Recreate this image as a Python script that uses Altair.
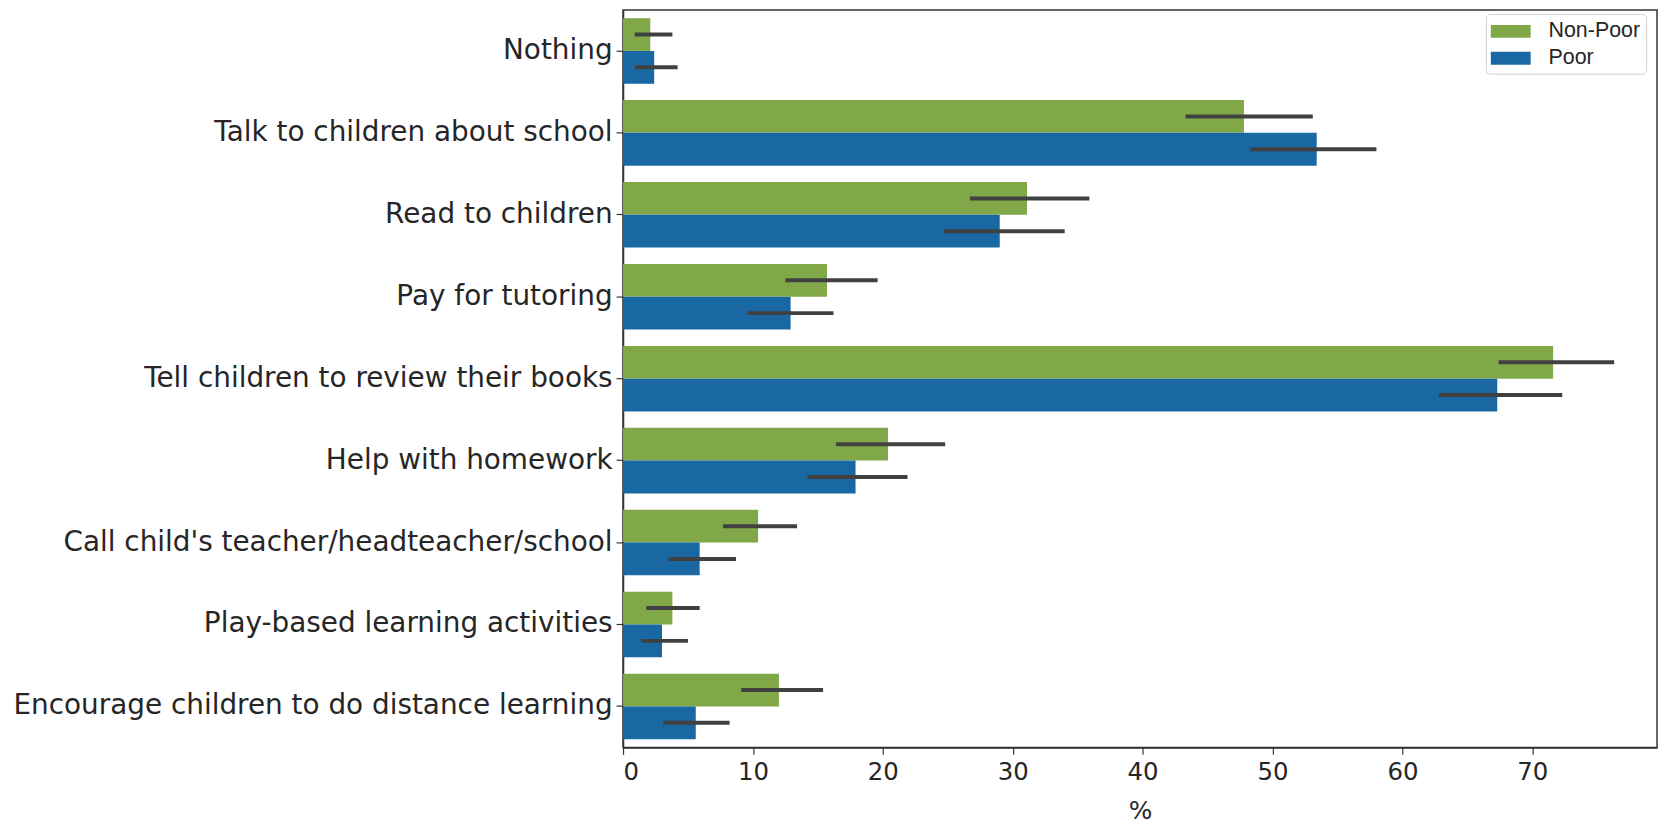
import altair as alt
import pandas as pd

categories = [
    "Nothing",
    "Talk to children about school",
    "Read to children",
    "Pay for tutoring",
    "Tell children to review their books",
    "Help with homework",
    "Call child's teacher/headteacher/school",
    "Play-based learning activities",
    "Encourage children to do distance learning",
]
groups = ["Non-Poor", "Poor"]
nonpoor = [2.1, 47.8, 31.1, 15.7, 71.6, 20.4, 10.4, 3.8, 12.0]
poor = [2.4, 53.4, 29.0, 12.9, 67.3, 17.9, 5.9, 3.0, 5.6]
nonpoor_lo = [0.9, 43.3, 26.7, 12.5, 67.4, 16.4, 7.7, 1.8, 9.1]
nonpoor_hi = [3.8, 53.1, 35.9, 19.6, 76.3, 24.8, 13.4, 5.9, 15.4]
poor_lo = [0.9, 48.3, 24.7, 9.6, 62.8, 14.2, 3.5, 1.4, 3.1]
poor_hi = [4.2, 58.0, 34.0, 16.2, 72.3, 21.9, 8.7, 5.0, 8.2]
x_ticks = [0, 10, 20, 30, 40, 50, 60, 70]

rows = []
for i, c in enumerate(categories):
    rows.append({"cat": c, "group": groups[0], "val": nonpoor[i], "lo": nonpoor_lo[i], "hi": nonpoor_hi[i]})
    rows.append({"cat": c, "group": groups[1], "val": poor[i], "lo": poor_lo[i], "hi": poor_hi[i]})
df = pd.DataFrame(rows)

color_scale = alt.Scale(domain=groups, range=["#80a848", "#1a68a3"])
y_enc = alt.Y(
    "cat:N",
    sort=categories,
    title=None,
    scale=alt.Scale(paddingInner=0.2, paddingOuter=0.1),
    axis=alt.Axis(
        labelFont="DejaVu Sans",
        labelFontSize=28,
        labelColor="#262626",
        labelLimit=700,
        tickSize=7,
        tickColor="#333",
        tickWidth=1.2,
        labelPadding=4,
        domainColor="#333",
        domainWidth=1.5,
    ),
)
yoff = alt.YOffset("group:N", sort=groups, scale=alt.Scale(paddingInner=0, paddingOuter=0))
x_scale = alt.Scale(domain=[0, 79.6], nice=False, zero=True)

bars = alt.Chart(df).mark_bar().encode(
    y=y_enc,
    yOffset=yoff,
    x=alt.X(
        "val:Q",
        scale=x_scale,
        title="%",
        axis=alt.Axis(
            values=x_ticks,
            grid=False,
            labelFont="DejaVu Sans",
            labelFontSize=24.5,
            labelColor="#262626",
            tickSize=7,
            tickColor="#333",
            tickWidth=1.2,
            labelPadding=6,
            domainColor="#333",
            domainWidth=1.5,
            titleFont="DejaVu Sans",
            titleFontSize=25,
            titleFontWeight="normal",
            titleColor="#262626",
            titlePadding=15,
        ),
    ),
    color=alt.Color(
        "group:N",
        scale=color_scale,
        sort=groups,
        legend=alt.Legend(
            title=None,
            orient="none",
            legendX=867,
            legendY=4,
            symbolType="M-1,-0.52H2.2V0.52H-1Z",
            symbolSize=625,
            symbolStrokeWidth=0,
            labelFont="Liberation Sans",
            labelFontSize=21.5,
            labelColor="#262626",
            rowPadding=4,
            padding=5,
            strokeColor="#d0d0d0",
            fillColor="white",
            cornerRadius=4,
            labelOffset=33,
        ),
    ),
)

errs = alt.Chart(df).mark_rule(color="#404040", strokeWidth=4).encode(
    y=alt.Y("cat:N", sort=categories),
    yOffset=yoff,
    x=alt.X("lo:Q", scale=x_scale),
    x2="hi:Q",
)

chart = (
    alt.layer(bars, errs)
    .properties(
        width=1039,
        height=741,
        autosize=alt.AutoSizeParams(type="none"),
        padding={"left": 618, "top": 0, "right": 5, "bottom": 76},
    )
    .configure_view(stroke="#333", strokeWidth=1.5)
)

chart.save("out.html", embed_options={"renderer": "svg", "actions": False})
